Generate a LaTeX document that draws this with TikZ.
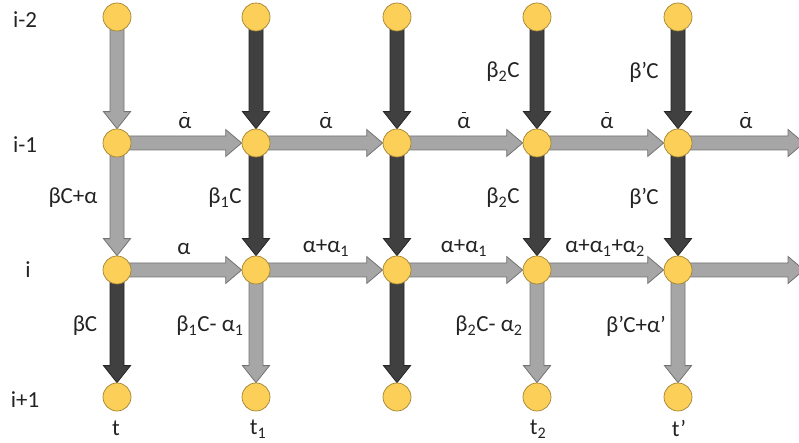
\documentclass[tikz,border=0pt]{standalone}
\usepackage{fontspec}
\setmainfont{Carlito}
\usetikzlibrary{calc,backgrounds}
\definecolor{dotfill}{RGB}{252,208,88}
\definecolor{dotline}{RGB}{160,130,50}
\definecolor{lgfill}{RGB}{166,166,166}
\definecolor{lgline}{RGB}{115,115,115}
\definecolor{dkfill}{RGB}{64,64,64}
\definecolor{dkline}{RGB}{38,38,38}
\definecolor{txt}{RGB}{35,35,35}
\newcommand\abar{\setbox0\hbox{α}\rlap{\hbox to\wd0{\hss\rule[0.66em]{0.2em}{0.06em}\hss}}\box0}
\newcommand\sub[1]{\textsubscript{#1}}
\newcommand\varr[3]{\path[#3] let \p1=(#1.center), \p2=(#2.north) in
  (\x1-7pt,\y1) -- (\x1-7pt,\y2+17pt) -- (\x1-13.5pt,\y2+17pt) -- (\x2,\y2)
  -- (\x1+13.5pt,\y2+17pt) -- (\x1+7pt,\y2+17pt) -- (\x1+7pt,\y1) -- cycle;}
\newcommand\harr[3]{\path[#3] let \p1=(#1.center), \p2=(#2.west) in
  (\x1,\y1+7pt) -- (\x2-16pt,\y1+7pt) -- (\x2-16pt,\y1+13.5pt) -- (\x2,\y1)
  -- (\x2-16pt,\y1-13.5pt) -- (\x2-16pt,\y1-7pt) -- (\x1,\y1-7pt) -- cycle;}
\begin{document}
\begin{tikzpicture}[x=1pt,y=1pt,
  dot/.style={circle,minimum size=28pt,inner sep=0pt,fill=dotfill,draw=dotline,line width=0.7pt},
  lbl/.style={inner sep=0pt,text=txt,font=\fontsize{23}{27}\selectfont},
  lite/.style={fill=lgfill,draw=lgline,line width=0.8pt},
  dark/.style={fill=dkfill,draw=dkline,line width=0.8pt}]
\useasboundingbox (0,0) rectangle (799,443);
\foreach \c/\x in {1/117,2/256,3/397,4/537,5/678}{
  \foreach \r/\y in {1/426,2/300,3/173,4/46}{
    \node[dot] (n\r\c) at (\x,\y) {};
  }
}
\coordinate (e2) at (804,300);
\coordinate (e3) at (804,173);
\begin{scope}[on background layer]
  \varr{n11}{n21}{lite}\varr{n21}{n31}{lite}\varr{n31}{n41}{dark}
  \varr{n12}{n22}{dark}\varr{n22}{n32}{dark}\varr{n32}{n42}{lite}
  \varr{n13}{n23}{dark}\varr{n23}{n33}{dark}\varr{n33}{n43}{dark}
  \varr{n14}{n24}{dark}\varr{n24}{n34}{dark}\varr{n34}{n44}{lite}
  \varr{n15}{n25}{dark}\varr{n25}{n35}{dark}\varr{n35}{n45}{lite}
  \harr{n21}{n22}{lite}\harr{n22}{n23}{lite}\harr{n23}{n24}{lite}\harr{n24}{n25}{lite}\harr{n25}{e2}{lite}
  \harr{n31}{n32}{lite}\harr{n32}{n33}{lite}\harr{n33}{n34}{lite}\harr{n34}{n35}{lite}\harr{n35}{e3}{lite}
\end{scope}
% row labels
\node[lbl] (r1) at (25,423) {i-2};
\node[lbl] (r2) at (25,298) {i-1};
\node[lbl] (r3) at (28,173) {i};
\node[lbl] (r4) at (25,43) {i+1};
% bottom labels
\node[lbl] (b1) at (116,15) {t};
\node[lbl] (b2) at (258,14) {t\sub{1}};
\node[lbl] (b3) at (538,14) {t\sub{2}};
\node[lbl] (b4) at (679,15) {t’};
% vertical labels
\node[lbl] (v1) at (73,245) {βC+α};
\node[lbl] (v2) at (225,245) {β\sub{1}C};
\node[lbl] (v3) at (503,245) {β\sub{2}C};
\node[lbl] (v4) at (644,245) {β’C};
\node[lbl] (v5) at (503,371) {β\sub{2}C};
\node[lbl] (v6) at (644,371) {β’C};
\node[lbl] (v7) at (85,117) {βC};
\node[lbl] (v8) at (210,117) {β\sub{1}C- α\sub{1}};
\node[lbl] (v9) at (489,117) {β\sub{2}C- α\sub{2}};
\node[lbl] (v10) at (636,117) {β’C+α’};
% horizontal labels
\node[lbl] (h1) at (185,323) {\abar};
\node[lbl] (h2) at (326,323) {\abar};
\node[lbl] (h3) at (464,323) {\abar};
\node[lbl] (h4) at (607,323) {\abar};
\node[lbl] (h5) at (746,323) {\abar};
\node[lbl] (h6) at (184,194) {α};
\node[lbl] (h7) at (326,195) {α+α\sub{1}};
\node[lbl] (h8) at (464,195) {α+α\sub{1}};
\node[lbl] (h9) at (605,195) {α+α\sub{1}+α\sub{2}};
\end{tikzpicture}
\end{document}
